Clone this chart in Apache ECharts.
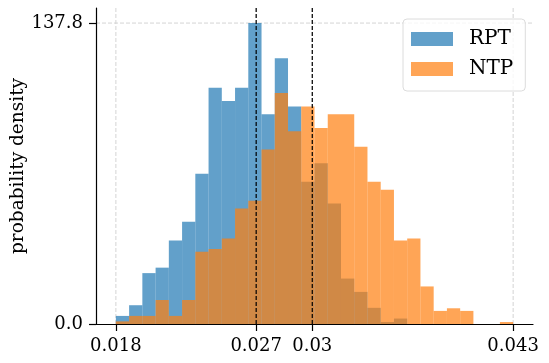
<!DOCTYPE html>
<html>
<head>
<meta charset="utf-8">
<script src="https://cdn.jsdelivr.net/npm/echarts@6/dist/echarts.min.js"></script>
<style>
  html, body { margin: 0; padding: 0; background: #fff; }
  #contain { width: 549px; height: 363px; }
</style>
</head>
<body>
<div id="contain"></div>
<script>
// histogram bins: 30 equal bins between binLo and binHi
var binLo = 0.018;
var binHi = 0.043;
var nBins = 30;

// bin heights (probability density)
var rptValues = [3.7, 8.6, 23.3, 25.8, 38.2, 46.8, 68.8, 108.2, 102.1, 108.2,
                 137.8, 96.0, 121.7, 99.6, 65.1, 73.6, 55.2, 20.8, 14.7, 7.4,
                 0.9, 2.5, 0, 0, 0, 0, 0, 0, 0, 0];
var ntpValues = [1.2, 3.7, 3.7, 11.0, 3.7, 11.0, 33.1, 34.3, 39.2, 52.9,
                 56.4, 79.9, 105.8, 88.3, 99.6, 89.8, 96.0, 96.0, 81.2, 65.1,
                 61.5, 38.2, 39.2, 17.2, 6.0, 7.2, 6.0, 0, 0, 0.9];

// tick positions and labels
var xTickValues = [0.018, 0.02683, 0.03036, 0.043];
var xTickLabels = ['0.018', '0.027', '0.03', '0.043'];
var yTickValues = [0, 137.8];
var yTickLabels = ['0.0', '137.8'];

// dashed reference lines (means)
var meanLines = [0.02683, 0.03036];

var serif = 'DejaVu Serif';

function toBins(vals) {
    var w = (binHi - binLo) / nBins;
    var out = [];
    for (var i = 0; i < vals.length; i++) {
        out.push([binLo + i * w, binLo + (i + 1) * w, vals[i]]);
    }
    return out;
}

function renderBar(params, api) {
    var p0 = api.coord([api.value(0), api.value(2)]);
    var p1 = api.coord([api.value(1), 0]);
    return {
        type: 'rect',
        shape: { x: p0[0], y: p0[1], width: p1[0] - p0[0], height: p1[1] - p0[1] },
        style: { fill: api.visual('color') }
    };
}

// vertical or horizontal line across the whole plot through point [x, y]
function lineRenderer(vertical, color, width, dash) {
    return function (params, api) {
        var cs = params.coordSys;
        var p = api.coord([api.value(0), api.value(1)]);
        var shape = vertical
            ? { x1: p[0], y1: cs.y, x2: p[0], y2: cs.y + cs.height }
            : { x1: cs.x, y1: p[1], x2: cs.x + cs.width, y2: p[1] };
        return {
            type: 'line',
            shape: shape,
            style: { stroke: color, lineWidth: width, lineDash: dash }
        };
    };
}

var myChart = echarts.init(document.getElementById('contain'));

var option = {
    animation: false,
    backgroundColor: '#fff',
    grid: { left: 96, top: 8, right: 16, bottom: 39, containLabel: false, outerBoundsMode: 'none' },
    legend: {
        data: ['RPT', 'NTP'],
        orient: 'vertical',
        left: 403,
        top: 19,
        icon: 'rect',
        itemWidth: 42,
        itemHeight: 14,
        itemGap: 10,
        padding: [10, 12, 12, 8],
        backgroundColor: 'rgba(255,255,255,0.8)',
        borderColor: '#dcdcdc',
        borderWidth: 1,
        borderRadius: 4,
        textStyle: { fontFamily: serif, fontSize: 20, color: '#000', padding: [0, 0, 0, 11] }
    },
    xAxis: {
        type: 'value',
        min: 0.01675,
        max: 0.04425,
        splitLine: { show: false },
        axisLine: { show: true, onZero: false, lineStyle: { color: '#000', width: 1.2 } },
        axisTick: { show: true, length: 7, customValues: xTickValues, lineStyle: { color: '#000', width: 1.2 } },
        axisLabel: {
            customValues: xTickValues,
            margin: 13,
            fontFamily: serif,
            fontSize: 18,
            color: '#000',
            formatter: function (v) {
                var i = xTickValues.indexOf(v);
                return i >= 0 ? xTickLabels[i] : '';
            }
        }
    },
    yAxis: {
        type: 'value',
        min: 0,
        max: 144.69,
        name: 'probability density',
        nameLocation: 'middle',
        nameRotate: 90,
        nameGap: 68,
        nameMoveOverlap: false,
        nameTextStyle: { fontFamily: serif, fontSize: 18.5, color: '#000' },
        splitLine: { show: false },
        axisLine: { show: true, lineStyle: { color: '#000', width: 1.2 } },
        axisTick: { show: true, length: 7, customValues: yTickValues, lineStyle: { color: '#000', width: 1.2 } },
        axisLabel: {
            customValues: yTickValues,
            margin: 13,
            fontFamily: serif,
            fontSize: 18,
            color: '#000',
            formatter: function (v) {
                var i = yTickValues.indexOf(v);
                return i >= 0 ? yTickLabels[i] : '';
            }
        }
    },
    series: [
        {
            // vertical grid lines behind the bars
            name: 'gridX',
            type: 'custom',
            renderItem: lineRenderer(true, '#cfcfcf', 0.9, [4, 2]),
            encode: { x: 0, y: 1 },
            silent: true,
            data: xTickValues.map(function (v) { return [v, 0]; }),
            z: 0
        },
        {
            // horizontal grid line at the top tick
            name: 'gridY',
            type: 'custom',
            renderItem: lineRenderer(false, '#cfcfcf', 0.9, [4, 2]),
            encode: { x: 0, y: 1 },
            silent: true,
            data: [[binLo, yTickValues[1]]],
            z: 0
        },
        {
            name: 'RPT',
            type: 'custom',
            renderItem: renderBar,
            encode: { x: [0, 1], y: 2 },
            itemStyle: { color: 'rgba(31,119,180,0.7)' },
            data: toBins(rptValues),
            z: 2
        },
        {
            name: 'NTP',
            type: 'custom',
            renderItem: renderBar,
            encode: { x: [0, 1], y: 2 },
            itemStyle: { color: 'rgba(255,127,14,0.7)' },
            data: toBins(ntpValues),
            z: 3
        },
        {
            name: 'means',
            type: 'custom',
            renderItem: lineRenderer(true, '#000', 1.2, [4, 2]),
            encode: { x: 0, y: 1 },
            silent: true,
            data: meanLines.map(function (v) { return [v, 0]; }),
            z: 10
        }
    ]
};

myChart.setOption(option);
</script>
</body>
</html>
